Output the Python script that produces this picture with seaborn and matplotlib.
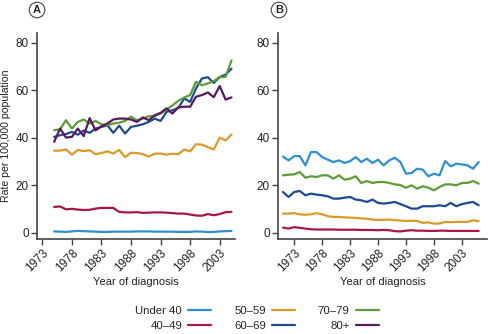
import numpy as np
import pandas as pd
import matplotlib
matplotlib.use("Agg")
import matplotlib.pyplot as plt
import seaborn as sns

groups = ["Under 40", "40–49", "50–59", "60–69", "70–79", "80+"]
colors = ["#2f8fd3", "#a8174a", "#dc9a2c", "#1d4b93", "#5f9b36", "#581a5c"]

# Panel A: 1975-2005
years_a = list(range(1975, 2006))
a_under40 = [0.5, 0.4, 0.3, 0.5, 0.7, 0.6, 0.5, 0.4, 0.3, 0.3, 0.4, 0.4, 0.4, 0.4, 0.5, 0.5,
             0.5, 0.4, 0.4, 0.4, 0.4, 0.3, 0.3, 0.3, 0.5, 0.4, 0.2, 0.3, 0.5, 0.6, 0.7]
a_40_49 = [10.8, 11.0, 9.8, 10.0, 9.7, 9.5, 9.6, 10.1, 10.4, 10.4, 10.4, 8.7, 8.5, 8.5, 8.6, 8.3,
           8.4, 8.5, 8.5, 8.4, 8.2, 8.0, 8.0, 7.6, 7.2, 7.1, 7.8, 7.3, 7.8, 8.6, 8.7]
a_50_59 = [34.5, 34.5, 35.0, 32.8, 34.8, 34.3, 34.7, 33.0, 33.5, 34.2, 33.3, 34.8, 31.8, 33.6, 33.5, 33.0,
           32.0, 33.2, 33.3, 32.8, 33.2, 33.0, 35.0, 34.2, 37.2, 37.0, 36.0, 35.0, 40.0, 38.8, 41.3]
a_60_69 = [40.3, 41.0, 41.5, 42.4, 41.2, 43.0, 42.0, 43.8, 44.5, 45.2, 42.0, 45.0, 41.7, 44.5, 45.0, 45.6,
           46.6, 48.0, 47.0, 50.8, 51.5, 52.5, 56.5, 55.0, 60.7, 64.9, 65.4, 63.0, 65.5, 66.5, 69.0]
a_70_79 = [43.1, 43.5, 47.3, 43.8, 46.6, 47.6, 45.9, 47.0, 45.6, 45.2, 45.9, 46.3, 47.0, 48.8, 47.3, 48.0,
           49.0, 49.0, 50.1, 51.8, 53.5, 55.5, 56.9, 57.9, 63.5, 62.0, 62.8, 63.8, 65.4, 65.6, 72.5]
a_80p = [38.2, 43.8, 40.0, 40.3, 43.8, 40.6, 48.2, 43.0, 44.8, 45.9, 47.6, 48.0, 48.0, 47.6, 46.6, 48.5,
         47.3, 49.4, 50.4, 52.3, 50.1, 52.7, 53.0, 53.0, 57.2, 57.9, 59.0, 57.0, 61.7, 56.0, 56.9]

# Panel B: 1971-2006
years_b = list(range(1971, 2007))
b_under40 = [2.1, 1.7, 2.3, 2.0, 1.7, 1.4, 1.3, 1.3, 1.3, 1.3, 1.2, 1.2, 1.2, 1.2, 1.1, 1.1, 1.1, 1.0,
             1.1, 1.0, 0.6, 0.5, 0.8, 1.0, 0.8, 0.8, 0.7, 0.7, 0.8, 0.8, 0.7, 0.7, 0.7, 0.7, 0.7, 0.7]
b_40_49 = [8.0, 8.0, 8.2, 7.7, 7.5, 7.7, 8.2, 7.7, 6.9, 6.6, 6.6, 6.4, 6.3, 6.2, 6.0, 5.8, 5.5, 5.3,
           5.4, 5.5, 5.2, 5.1, 4.9, 5.0, 4.9, 4.1, 4.3, 3.8, 3.8, 4.5, 4.4, 4.5, 4.5, 4.5, 5.2, 4.8]
b_50_59 = [17.1, 15.0, 17.1, 17.5, 15.7, 16.4, 16.0, 15.7, 15.3, 14.3, 14.3, 14.7, 15.0, 13.9, 13.6, 12.9,
           13.9, 12.5, 12.2, 12.5, 12.9, 12.0, 11.1, 10.1, 10.1, 11.1, 11.1, 11.1, 11.5, 11.1, 12.5, 11.1,
           12.0, 12.5, 12.9, 11.5]
b_60_69 = [24.1, 24.4, 24.5, 25.5, 23.1, 23.7, 23.4, 24.1, 24.1, 22.7, 24.1, 22.3, 22.7, 23.7, 20.9, 21.7,
           20.9, 21.3, 21.3, 20.9, 20.3, 20.0, 18.9, 19.9, 18.5, 19.5, 18.9, 17.8, 19.2, 20.3, 20.3, 19.9,
           20.9, 20.9, 21.7, 20.6]
b_70_79 = [32.0, 30.4, 32.2, 32.2, 28.3, 33.9, 33.9, 31.8, 30.7, 29.7, 30.4, 29.3, 30.1, 31.8, 29.7, 31.1,
           29.3, 30.7, 28.3, 30.4, 31.5, 29.7, 24.8, 25.1, 26.9, 26.5, 23.7, 24.8, 24.1, 30.1, 27.9, 29.0,
           28.7, 28.3, 26.9, 29.7]

series_a = [a_under40, a_40_49, a_50_59, a_60_69, a_70_79, a_80p]
# Panel B curves drawn with the colours seen in the reference (light blue top, red bottom)
series_b = {"Under 40": b_70_79, "70–79": b_60_69, "60–69": b_50_59, "50–59": b_40_49, "40–49": b_under40}


def long_df(years, mapping):
    rows = []
    for g, vals in mapping.items():
        for y, v in zip(years, vals):
            rows.append({"year": y, "rate": v, "group": g})
    return pd.DataFrame(rows)


df_a = long_df(years_a, dict(zip(groups, series_a)))
df_b = long_df(years_b, series_b)

sns.set_style("ticks")
plt.rcParams["font.family"] = ["Liberation Sans", "DejaVu Sans"]
plt.rcParams["font.size"] = 8

fig = plt.figure(figsize=(4.89, 3.34), dpi=100)
axA = fig.add_axes([0.0757, 0.2844, 0.405, 0.6166])
axB = fig.add_axes([0.5685, 0.2844, 0.4275, 0.6166])
palette = dict(zip(groups, colors))

sns.lineplot(data=df_a, x="year", y="rate", hue="group", hue_order=groups, palette=palette,
             linewidth=1.6, ax=axA, legend=True)
sns.lineplot(data=df_b, x="year", y="rate", hue="group", hue_order=groups, palette=palette,
             linewidth=1.6, ax=axB, legend=False)

for ax, xl in [(axA, (1972.1, 2005.6)), (axB, (1970.1, 2007.5))]:
    ax.set_xlim(*xl)
    ax.set_ylim(-2.7, 84)
    ax.set_xticks(range(1973, 2004, 5))
    ax.set_yticks(range(0, 81, 20))
    for lab in ax.get_xticklabels():
        lab.set_rotation(45)
        lab.set_ha("right")
        lab.set_rotation_mode("anchor")
    ax.tick_params(axis="both", length=4, width=1.0, color="#444444", labelsize=8.5, pad=2,
                   labelcolor="#222222")
    for s in ["left", "bottom"]:
        ax.spines[s].set_linewidth(1.2)
        ax.spines[s].set_color("#444444")
    ax.spines["top"].set_visible(False)
    ax.spines["right"].set_visible(False)
    ax.set_xlabel("Year of diagnosis", fontsize=8, color="#222222", labelpad=2)
    ax.set_ylabel("")

axA.set_ylabel("Rate per 100,000 population", fontsize=7.6, color="#222222", labelpad=3)

handles, labels = axA.get_legend_handles_labels()
axA.get_legend().remove()
fig.legend(handles, labels, ncol=3, loc="center", bbox_to_anchor=(257 / 489, 1 - 318.5 / 334),
           frameon=False, markerfirst=False, fontsize=8.2, handlelength=2.0, columnspacing=2.0,
           labelspacing=0.45, handletextpad=0.55)

for x, lab in [(37, "A"), (279, "B")]:
    fig.text(x / 489, 1 - 10 / 334, lab, ha="center", va="center", fontsize=8, fontweight="bold",
             bbox=dict(boxstyle="circle,pad=0.25", fc="white", ec="#444444", lw=0.8))

fig.savefig("out.png", dpi=100)
